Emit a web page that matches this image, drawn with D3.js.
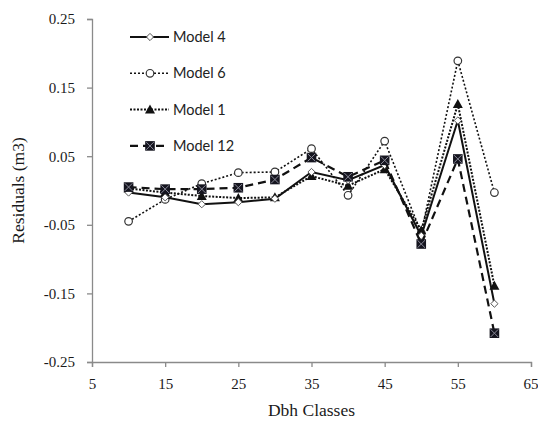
<!DOCTYPE html>
<html>
<head>
<meta charset="utf-8">
<script src="https://cdn.jsdelivr.net/npm/d3@7"></script>
<style>
  html, body { margin: 0; padding: 0; background: #fff; }
  svg { display: block; }
</style>
</head>
<body>
<div id="chart"></div>
<script>
// Dbh classes on the x axis
const dbhClasses = [10, 15, 20, 25, 30, 35, 40, 45, 50, 55, 60];

// Residuals (m3) for each model
const model4  = [-0.003, -0.010, -0.020, -0.017, -0.012, 0.027, 0.015, 0.037, -0.066, 0.102, -0.165];
const model6  = [-0.045, -0.013,  0.010,  0.026,  0.027, 0.061, -0.007, 0.072, -0.062, 0.189, -0.003];
const model1  = [ 0.003, -0.003, -0.008, -0.011, -0.010, 0.021, 0.007, 0.031, -0.058, 0.126, -0.139];
const model12 = [ 0.005,  0.002,  0.002,  0.004,  0.016, 0.048, 0.020, 0.044, -0.078, 0.046, -0.208];

// Axis ticks
const xTicks = [5, 15, 25, 35, 45, 55, 65];
const yTicks = [-0.25, -0.15, -0.05, 0.05, 0.15, 0.25];

const width = 538, height = 424;
const svg = d3.select("#chart").append("svg")
  .attr("width", width).attr("height", height);

const x = d3.scaleLinear().domain([5, 65]).range([92, 531]);
const y = d3.scaleLinear().domain([-0.25, 0.25]).range([362, 19]);

const serif = "'Liberation Serif', 'Times New Roman', serif";

// Axes
const xAxis = svg.append("g")
  .attr("transform", `translate(0,${y(-0.25)})`)
  .call(d3.axisBottom(x).tickValues(xTicks).tickSize(5).tickPadding(11)
    .tickFormat(d3.format("d")));
const yAxis = svg.append("g")
  .attr("transform", `translate(${x(5)},0)`)
  .call(d3.axisLeft(y).tickValues(yTicks).tickSize(5).tickPadding(12)
    .tickFormat(d3.format(".2f")));

[xAxis, yAxis].forEach(g => {
  g.select(".domain").attr("stroke", "#8a8a8a").attr("stroke-width", 1.3);
  g.selectAll(".tick line").attr("stroke", "#8a8a8a").attr("stroke-width", 1.3);
  g.selectAll(".tick text")
    .attr("fill", "#1a1a1a")
    .style("font-family", serif)
    .style("font-size", "15px");
});
yAxis.selectAll(".tick text").text(d => d3.format(".2f")(d).replace("−", "-"));
// keep the last x label inside the frame
xAxis.selectAll(".tick text").filter(d => d === 65).attr("text-anchor", "end").attr("dx", "7");

// Axis titles
svg.append("text")
  .attr("x", (x(5) + x(65)) / 2).attr("y", 416)
  .attr("text-anchor", "middle")
  .attr("fill", "#1a1a1a")
  .style("font-family", serif).style("font-size", "17.5px")
  .text("Dbh Classes");

svg.append("text")
  .attr("transform", `translate(24,${(y(0.25) + y(-0.25)) / 2}) rotate(-90)`)
  .attr("text-anchor", "middle")
  .attr("fill", "#1a1a1a")
  .style("font-family", serif).style("font-size", "17.5px")
  .text("Residuals (m3)");

// Series definitions
const series = [
  { name: "Model 6",  values: model6,  dash: "2,2",   width: 1.6, marker: "circle" },
  { name: "Model 1",  values: model1,  dash: "2,1.5", width: 2,   marker: "triangle" },
  { name: "Model 4",  values: model4,  dash: null,    width: 2,   marker: "diamond" },
  { name: "Model 12", values: model12, dash: "8,5",   width: 2.2, marker: "square" }
];

const line = d3.line().x(d => x(d[0])).y(d => y(d[1]));

function drawMarker(g, type, cx, cy) {
  if (type === "circle") {
    g.append("circle").attr("cx", cx).attr("cy", cy).attr("r", 3.8)
      .attr("fill", "#fff").attr("stroke", "#333").attr("stroke-width", 1.2);
  } else if (type === "triangle") {
    const s = 5;
    g.append("path")
      .attr("d", `M${cx},${cy - s}L${cx + s},${cy + s * 0.8}L${cx - s},${cy + s * 0.8}Z`)
      .attr("fill", "#111");
  } else if (type === "diamond") {
    const s = 3.6;
    g.append("path")
      .attr("d", `M${cx},${cy - s}L${cx + s},${cy}L${cx},${cy + s}L${cx - s},${cy}Z`)
      .attr("fill", "#fff").attr("stroke", "#555").attr("stroke-width", 1);
  } else if (type === "square") {
    const s = 4.8;
    g.append("rect").attr("x", cx - s).attr("y", cy - s)
      .attr("width", 2 * s).attr("height", 2 * s).attr("fill", "#15151f");
    g.append("path")
      .attr("d", `M${cx - s + 1},${cy - s + 1}L${cx + s - 1},${cy + s - 1}M${cx + s - 1},${cy - s + 1}L${cx - s + 1},${cy + s - 1}`)
      .attr("stroke", "#8a8a99").attr("stroke-width", 1);
  }
}

const plot = svg.append("g");
series.forEach(s => {
  const pts = dbhClasses.map((c, i) => [c, s.values[i]]);
  plot.append("path")
    .datum(pts)
    .attr("d", line)
    .attr("fill", "none")
    .attr("stroke", "#111")
    .attr("stroke-width", s.width)
    .attr("stroke-dasharray", s.dash);
  const mg = plot.append("g");
  pts.forEach(p => drawMarker(mg, s.marker, x(p[0]), y(p[1])));
});

// Legend
const legendOrder = ["Model 4", "Model 6", "Model 1", "Model 12"];
const legend = svg.append("g");
legendOrder.forEach((name, i) => {
  const s = series.find(d => d.name === name);
  const ly = 37 + i * 36.3;
  legend.append("line")
    .attr("x1", 130).attr("x2", 169).attr("y1", ly).attr("y2", ly)
    .attr("stroke", "#111").attr("stroke-width", s.width)
    .attr("stroke-dasharray", s.dash);
  drawMarker(legend, s.marker, 150, ly);
  legend.append("text")
    .attr("x", 173).attr("y", ly + 5)
    .attr("fill", "#222")
    .style("font-family", "Lato, 'Open Sans', sans-serif")
    .style("font-size", "14.5px")
    .text(name);
});
</script>
</body>
</html>
